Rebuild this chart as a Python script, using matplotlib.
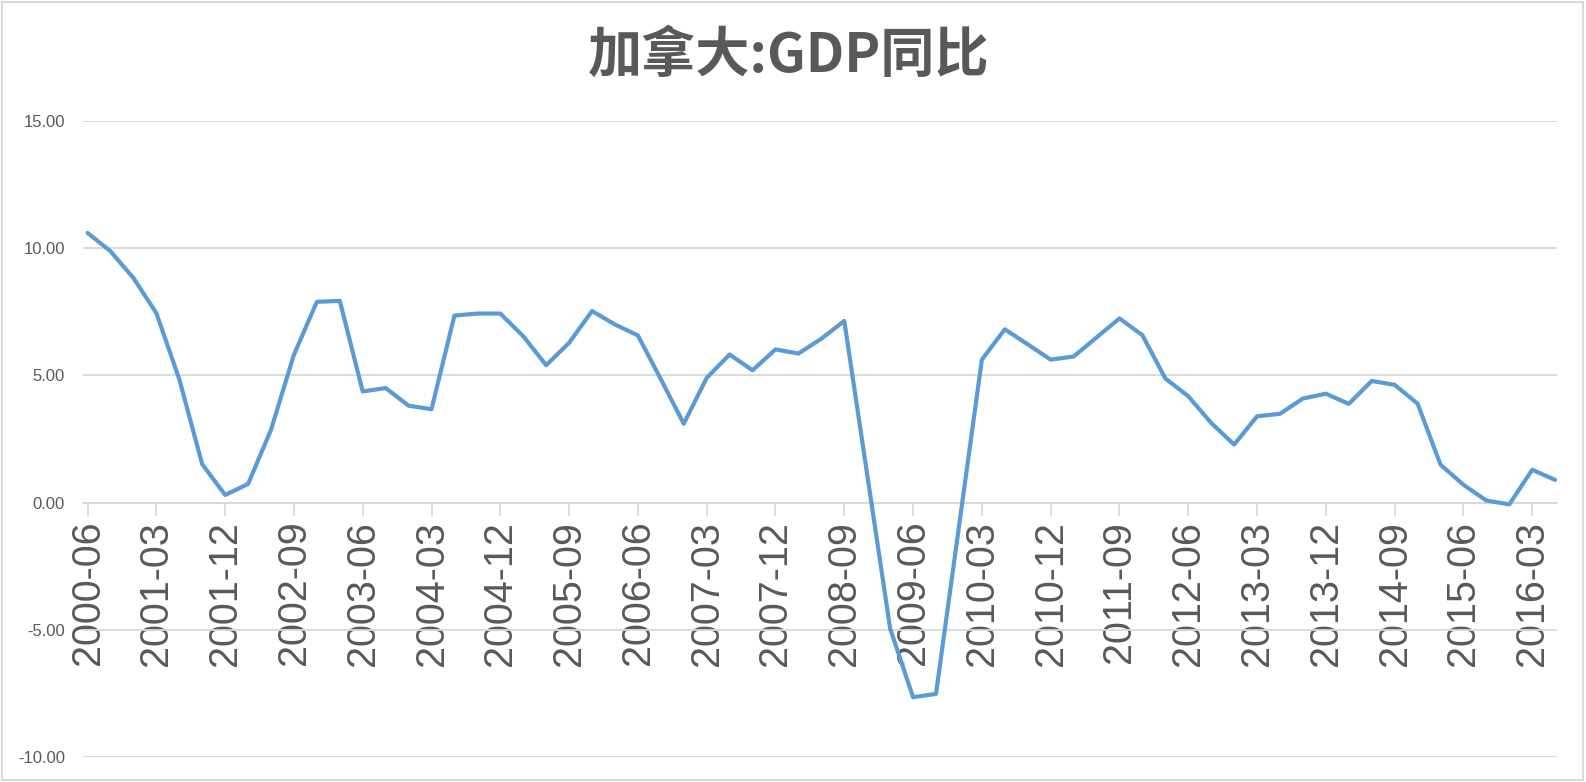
import matplotlib
matplotlib.use("Agg")
import matplotlib.pyplot as plt
import pandas as pd
from matplotlib.patches import Rectangle

plt.rcParams['font.family'] = ['Noto Sans CJK SC', 'DejaVu Sans']

# quarterly GDP yoy, Canada, 2000-06 .. 2016-06
quarters = pd.date_range('2000-06-01', '2016-06-01', freq='3MS').strftime('%Y-%m').tolist()
gdp_yoy = [10.60, 9.88, 8.83, 7.45, 4.85, 1.51, 0.30, 0.73, 2.86, 5.81,
           7.89, 7.93, 4.37, 4.50, 3.81, 3.67, 7.35, 7.43, 7.43, 6.54,
           5.40, 6.28, 7.53, 7.00, 6.57, 4.85, 3.10, 4.90, 5.82, 5.20,
           6.02, 5.86, 6.44, 7.14, 1.10, -4.95, -7.65, -7.52, -0.95, 5.62,
           6.81, 6.22, 5.62, 5.74, 6.49, 7.24, 6.58, 4.88, 4.18, 3.13,
           2.28, 3.39, 3.49, 4.09, 4.28, 3.88, 4.78, 4.63, 3.89, 1.49,
           0.70, 0.08, -0.07, 1.29, 0.89]
y_ticks = [-10, -5, 0, 5, 10, 15]

grey_text = '#595959'
grid_col = '#D9D9D9'

fig = plt.figure(figsize=(15.86, 7.82), dpi=100)
ax = fig.add_axes([0.0523, 0.032, 0.9297, 0.8133])

# spine position first: moving it resets the tick label styling
for side in ['top', 'right', 'left']:
    ax.spines[side].set_visible(False)
ax.spines['bottom'].set_position(('data', 0))
ax.spines['bottom'].set_color(grid_col)
ax.spines['bottom'].set_linewidth(1.3)

x = list(range(len(quarters)))
ax.plot(x, gdp_yoy, color='#5B9BD5', linewidth=3.0,
        solid_joinstyle='round', solid_capstyle='round', zorder=3)

ax.set_ylim(-10, 15)
ax.set_xlim(-0.2, len(quarters) - 0.9)
ax.set_yticks(y_ticks)
ax.set_yticklabels([f'{v:.2f}' for v in y_ticks], family='Liberation Sans',
                   fontsize=12, color=grey_text)
ax.yaxis.grid(True, color=grid_col, linewidth=1.3)
ax.set_axisbelow(True)

tick_idx = x[::3]
ax.set_xticks(tick_idx)
ax.set_xticklabels([quarters[i] for i in tick_idx], rotation=90,
                   family='Liberation Sans', fontsize=28.5, color=grey_text)
ax.tick_params(axis='x', length=9, width=1.3, color=grid_col, pad=4)
ax.tick_params(axis='y', length=0, pad=13)

fig.text(0.4975, 0.928, '加拿大:GDP同比', ha='center', va='center',
         fontsize=39, fontweight='bold', color=grey_text)

# light chart border
fig.patches.append(Rectangle((0.001, 0.002), 0.997, 0.996, transform=fig.transFigure,
                             fill=False, edgecolor=grid_col, linewidth=1.5))

plt.savefig('out.png', dpi=100)
plt.close()
